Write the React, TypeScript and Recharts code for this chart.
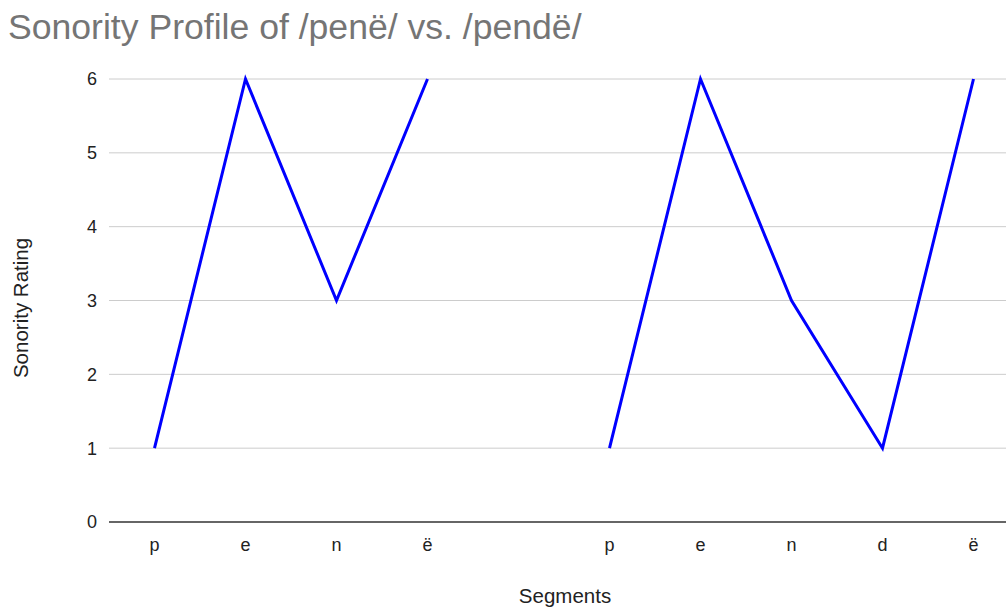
import React from "react";
import { CartesianGrid, Line, LineChart, XAxis, YAxis } from "recharts";

// segments of /penë/, an empty slot, then /pendë/
const segments = ["p", "e", "n", "ë", "", "p", "e", "n", "d", "ë"];
const sonority = [1, 6, 3, 6, null, 1, 6, 3, 1, 6];
const yTicks = [0, 1, 2, 3, 4, 5, 6];

const data = segments.map((s, i) => ({ seg: s, key: String(i), value: sonority[i] }));

const font = "Arial, 'Liberation Sans', sans-serif";

export default function App() {
  return (
    <div
      style={{
        position: "absolute",
        left: 0,
        top: 0,
        width: 1006,
        height: 607,
        overflow: "hidden",
        background: "#fff",
        fontFamily: font,
      }}
    >
      <div
        style={{
          position: "absolute",
          left: 8,
          top: 6,
          fontSize: 35.6,
          lineHeight: "42px",
          color: "#757575",
          whiteSpace: "nowrap",
          fontFamily: font,
        }}
      >
        Sonority Profile of /penë/ vs. /pendë/
      </div>
      <LineChart
        width={1019}
        height={607}
        data={data}
        margin={{ top: 79, right: 0, left: 0, bottom: 0 }}
      >
        <CartesianGrid vertical={false} stroke="#cccccc" />
        <XAxis
          dataKey="key"
          type="category"
          tickFormatter={(i) => segments[Number(i)]}
          height={85}
          padding={{ left: 45.5, right: 45.5 }}
          tickLine={false}
          axisLine={{ stroke: "#666666", strokeWidth: 2 }}
          tickSize={0}
          tickMargin={16}
          tick={{ fill: "#222222", fontSize: 18, fontFamily: font }}
          interval={0}
          label={{
            content: () => (
              <text x={565} y={603} textAnchor="middle" fill="#222222" fontSize={20.5} fontFamily={font}>
                Segments
              </text>
            ),
          }}
        />
        <YAxis
          width={109}
          domain={[0, 6]}
          ticks={yTicks}
          tickLine={false}
          axisLine={false}
          tickSize={0}
          tickMargin={12}
          tick={{ fill: "#222222", fontSize: 18, fontFamily: font }}
          label={{
            content: () => (
              <text
                x={28}
                y={308}
                transform="rotate(-90 28 308)"
                textAnchor="middle"
                fill="#222222"
                fontSize={20.5}
                fontFamily={font}
              >
                Sonority Rating
              </text>
            ),
          }}
        />
        <Line
          dataKey="value"
          stroke="#0000ff"
          strokeWidth={3}
          dot={false}
          activeDot={false}
          connectNulls={false}
          isAnimationActive={false}
        />
      </LineChart>
    </div>
  );
}
